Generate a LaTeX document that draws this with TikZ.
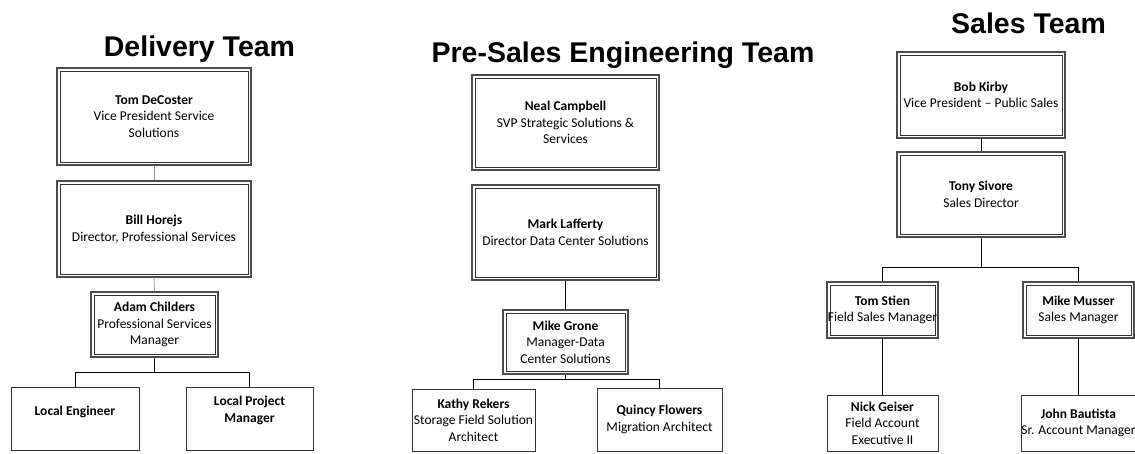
\documentclass[tikz,border=0pt]{standalone}
\usepackage{fontspec}
\setmainfont{Carlito}
\newfontfamily\titlefont{Liberation Sans}
\begin{document}
\begin{tikzpicture}[x=1pt,y=-1pt,
  dbox/.style={draw=black!70, line width=1.4pt,
    path picture={\draw[black!80, line width=0.6pt]
      ([shift={(3pt,-3pt)}]path picture bounding box.north west) rectangle
      ([shift={(-3pt,3pt)}]path picture bounding box.south east);},
    rectangle, inner sep=0pt, align=center, font=\fontsize{13.5}{16.5}\selectfont},
  sbox/.style={draw=black!80, line width=0.8pt,
    rectangle, inner sep=0pt, align=center, font=\fontsize{13.5}{16.5}\selectfont},
  txt/.style={inner sep=0pt, align=center, font=\fontsize{13.5}{16.5}\selectfont},
  ttl/.style={inner sep=0pt, anchor=base, font=\titlefont\bfseries\fontsize{28.5}{30}\selectfont},
  conn/.style={draw=black, line width=0.8pt},
  fconn/.style={draw=black!45, line width=0.7pt}]
\useasboundingbox (0,0) rectangle (1135,453);

% Titles
\node[ttl] (tdel) at (199.5,56.5) {Delivery Team};
\node[ttl] (tpre) at (623,62) {Pre-Sales Engineering Team};
\node[ttl] (tsal) at (1028.5,33) {Sales Team};

% Delivery Team
\node[dbox, minimum width=194pt, minimum height=97pt] (tom) at (154,116.5)
  {\textbf{Tom DeCoster}\\Vice President Service\\Solutions};
\node[dbox, minimum width=194pt, minimum height=96pt] (bill) at (154,229)
  {\textbf{Bill Horejs}\\Director, Professional Services};
\node[dbox, minimum width=127pt, minimum height=65pt] (adam) at (154.5,324.5)
  {\textbf{Adam Childers}\\Professional Services\\Manager};
\node[sbox, minimum width=128pt, minimum height=63pt] (le) at (75,418.5) {};
\node[txt] (let) at (75,412) {\textbf{Local Engineer}};
\node[sbox, minimum width=127pt, minimum height=63pt] (lpm) at (249.5,418.5) {};
\node[txt] (lpmt) at (249.5,410.5) {\textbf{Local Project}\\\textbf{Manager}};

\coordinate (dbr) at (154.5,372);
\draw[fconn] (tom.south) -- (bill.north);
\draw[fconn] (bill.south) -- (adam.north);
\draw[conn] (adam.south) -- (dbr) -| (le.north);
\draw[conn] (dbr) -| (lpm.north);

% Pre-Sales Engineering Team
\node[dbox, minimum width=187pt, minimum height=95pt] (neal) at (565.5,122.5)
  {\textbf{Neal Campbell}\\SVP Strategic Solutions \&\\Services};
\node[dbox, minimum width=187pt, minimum height=95pt] (mark) at (565.5,232.5)
  {\textbf{Mark Lafferty}\\Director Data Center Solutions};
\node[dbox, minimum width=125pt, minimum height=64pt] (mikeg) at (565.5,342)
  {\textbf{Mike Grone}\\Manager-Data\\Center Solutions};
\node[sbox, minimum width=123pt, minimum height=62pt] (kathy) at (473.5,420)
  {\textbf{Kathy Rekers}\\Storage Field Solution\\Architect};
\node[sbox, minimum width=125pt, minimum height=63pt] (quincy) at (659.5,419.5)
  {\textbf{Quincy Flowers}\\Migration Architect};

\coordinate (pbr) at (565.5,379);
\draw[conn] (mark.south) -- (mikeg.north);
\draw[conn] (mikeg.south) -- (pbr) -| (kathy.north);
\draw[conn] (pbr) -| (quincy.north);

% Sales Team
\node[dbox, minimum width=168pt, minimum height=86pt] (bob) at (981,95)
  {\textbf{Bob Kirby}\\Vice President -- Public Sales};
\node[dbox, minimum width=168pt, minimum height=85pt] (tony) at (981,194.5)
  {\textbf{Tony Sivore}\\Sales Director};
\node[dbox, minimum width=111pt, minimum height=56pt] (toms) at (882.5,310)
  {\textbf{Tom Stien}\\Field Sales Manager};
\node[dbox, minimum width=111pt, minimum height=56pt] (mikem) at (1078.5,310)
  {\textbf{Mike Musser}\\Sales Manager};
\node[sbox, minimum width=111pt, minimum height=56pt] (nick) at (882.5,423)
  {\textbf{Nick Geiser}\\Field Account\\Executive II};
\node[sbox, minimum width=111pt, minimum height=56pt] (john) at (1078.5,423)
  {\textbf{John Bautista}\\Sr. Account Manager};

\coordinate (sbr) at (981,267);
\draw[conn] (bob.south) -- (tony.north);
\draw[conn] (tony.south) -- (sbr) -| (toms.north);
\draw[conn] (sbr) -| (mikem.north);
\draw[conn] (toms.south) -- (nick.north);
\draw[conn] (mikem.south) -- (john.north);
\end{tikzpicture}
\end{document}
